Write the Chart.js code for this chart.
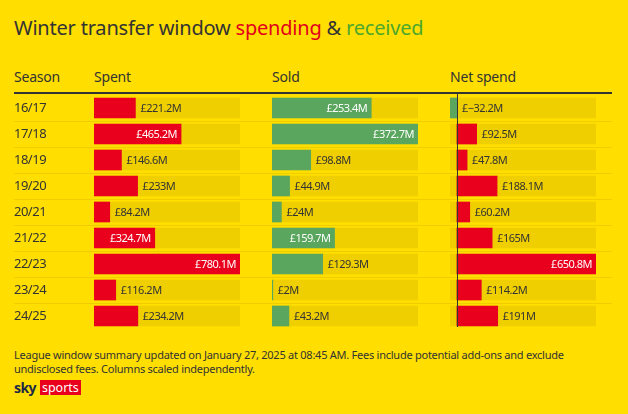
<!DOCTYPE html>
<html>
<head>
<meta charset="utf-8">
<script src="https://cdn.jsdelivr.net/npm/chart.js@4.4.1/dist/chart.umd.min.js"></script>
<style>
  html, body { margin: 0; padding: 0; }
  body { width: 628px; height: 414px; background: #FFDE00; position: relative; overflow: hidden; font-family: "Noto Sans", "Open Sans", sans-serif; color: #333; }
  #title { position: absolute; left: 14px; top: 14px; font-size: 20px; letter-spacing: -0.2px; white-space: nowrap; }
  #title .r { color: #E3001B; }
  #title .g { color: #4DA82B; }
  .hdr { position: absolute; top: 67px; font-size: 14px; white-space: nowrap; letter-spacing: -0.2px; }
  #hline { position: absolute; left: 14px; top: 92px; width: 598px; height: 2px; background: #333; }
  canvas { position: absolute; top: 93px; }
  #foot { position: absolute; left: 14px; top: 348px; font-size: 11px; line-height: 13.5px; letter-spacing: -0.25px; white-space: nowrap; }
  #logo { position: absolute; left: 14px; top: 380px; height: 15px; display: flex; align-items: center; }
  #logo .sky { font-weight: 700; font-size: 14px; color: #1e2a44; letter-spacing: -0.6px; margin-right: 4px; line-height: 15px; }
  #logo .sp { background: #E8001C; color: #fff; font-size: 12.5px; line-height: 15px; padding: 0 2px; height: 15px; }
</style>
</head>
<body>
<div id="title">Winter transfer window <span class="r">spending</span> &amp; <span class="g">received</span></div>
<div class="hdr" style="left:14px">Season</div>
<div class="hdr" style="left:94px">Spent</div>
<div class="hdr" style="left:272px">Sold</div>
<div class="hdr" style="left:450px">Net spend</div>
<div id="hline"></div>
<canvas id="c1" width="242" height="236" style="left:14px"></canvas>
<canvas id="c2" width="178" height="236" style="left:256px"></canvas>
<canvas id="c3" width="178" height="236" style="left:434px"></canvas>
<div id="foot">League window summary updated on January 27, 2025 at 08:45 AM. Fees include potential add-ons and exclude<br>undisclosed fees. Columns scaled independently.</div>
<div id="logo"><span class="sky">sky</span><span class="sp">sports</span></div>
<script>
const seasons = ["16/17","17/18","18/19","19/20","20/21","21/22","22/23","23/24","24/25"];
const spent = [221.2, 465.2, 146.6, 233, 84.2, 324.7, 780.1, 116.2, 234.2];
const sold = [253.4, 372.7, 98.8, 44.9, 24, 159.7, 129.3, 2, 43.2];
const netSpend = [-32.2, 92.5, 47.8, 188.1, 60.2, 165, 650.8, 114.2, 191];

const RED = "#E8001C", GREEN = "#5AA65E", TRACK = "#EFCF00", SEP = "#EFCE00", DARK = "#333333";

function fmt(v) {
  const s = (Math.round(v * 10) / 10).toString().replace("-", "\u2212");
  return "£" + s + "M";
}

const sepPlugin = {
  id: "sep",
  beforeDatasetsDraw(chart) {
    const y = chart.scales.y, ctx = chart.ctx;
    ctx.save();
    ctx.strokeStyle = SEP;
    ctx.lineWidth = 1;
    for (let i = 1; i < seasons.length; i++) {
      const py = Math.round((y.getPixelForValue(i - 1) + y.getPixelForValue(i)) / 2) + 0.5;
      ctx.beginPath();
      ctx.moveTo(0, py);
      ctx.lineTo(chart.width, py);
      ctx.stroke();
    }
    ctx.restore();
  }
};

const labelPlugin = {
  id: "vlabels",
  afterDatasetsDraw(chart, args, opts) {
    const ctx = chart.ctx;
    const meta = chart.getDatasetMeta(0);
    const data = chart.data.datasets[0].data;
    const y = chart.scales.y;
    ctx.save();
    ctx.textBaseline = "middle";
    if (opts.categories) {
      ctx.font = "13px 'Noto Sans', sans-serif";
      ctx.letterSpacing = "-0.5px";
      ctx.fillStyle = DARK;
      ctx.textAlign = "left";
      chart.data.labels.forEach((lab, i) => {
        ctx.fillText(lab, 0, y.getPixelForValue(i) + 0.5);
      });
    }
    ctx.font = "11px 'Noto Sans', sans-serif";
    ctx.letterSpacing = "-0.5px";
    meta.data.forEach((el, i) => {
      const v = data[i];
      const txt = fmt(v);
      const tw = ctx.measureText(txt).width;
      const zero = chart.scales.x.getPixelForValue(0);
      const end = el.x;
      const w = end - zero;
      if (w > tw + 14) {
        ctx.fillStyle = "#ffffff";
        ctx.textAlign = "right";
        ctx.fillText(txt, end - 4, el.y + 0.5);
      } else {
        ctx.fillStyle = DARK;
        ctx.textAlign = "left";
        ctx.fillText(txt, Math.max(end, zero) + 5, el.y + 0.5);
      }
    });
    if (opts.zeroLine) {
      const x0 = Math.round(chart.scales.x.getPixelForValue(0)) + 0.5;
      ctx.strokeStyle = DARK;
      ctx.lineWidth = 1;
      ctx.beginPath();
      ctx.moveTo(x0, 0);
      ctx.lineTo(x0, chart.chartArea.bottom - 2);
      ctx.stroke();
    }
    ctx.restore();
  }
};

function makeChart(id, values, color, min, max, pad, showCats, zeroLine) {
  const track = values.map(() => [min, max]);
  return new Chart(document.getElementById(id), {
    type: "bar",
    data: {
      labels: seasons,
      datasets: [
        { data: values, backgroundColor: color, barThickness: 20, grouped: false },
        { data: track, backgroundColor: TRACK, barThickness: 20, grouped: false }
      ]
    },
    options: {
      indexAxis: "y",
      responsive: false,
      animation: false,
      devicePixelRatio: 1,
      layout: { padding: { left: pad.left, right: pad.right, top: 2, bottom: 0 } },
      plugins: { legend: { display: false }, tooltip: { enabled: false }, vlabels: { zeroLine: zeroLine, categories: showCats } },
      scales: {
        x: { min: min, max: max, display: false },
        y: { display: false, offset: true }
      }
    },
    plugins: [sepPlugin, labelPlugin]
  });
}

makeChart("c1", spent, RED, 0, 780.1, { left: 80, right: 16 }, true, false);
makeChart("c2", sold, GREEN, 0, 372.7, { left: 16, right: 16 }, false, false);
makeChart("c3", netSpend, netSpend.map(v => v < 0 ? GREEN : RED), -32.2, 650.8, { left: 16, right: 16 }, false, true);
</script>
</body>
</html>
